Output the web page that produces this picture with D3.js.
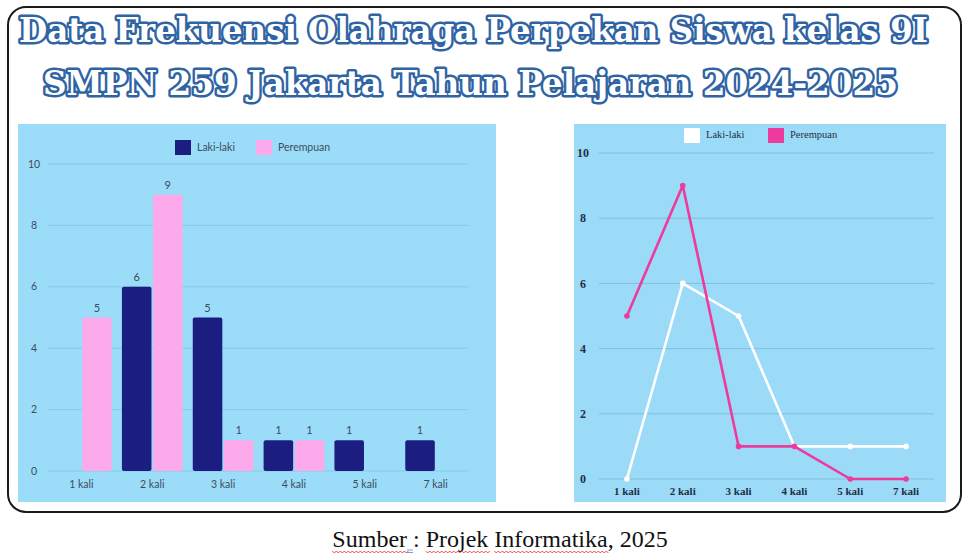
<!DOCTYPE html>
<html lang="id">
<head>
<meta charset="UTF-8">
<title>Data Frekuensi Olahraga Perpekan</title>
<style>
  body { margin: 0; background: #fff; }
  svg { display: block; }
  .lbar text { font-family: Lato, "Noto Sans", sans-serif; fill: #3d4d5c; }
  .lline text { font-family: "Liberation Serif", "DejaVu Serif", serif; font-weight: bold; fill: #1f2f45; }
</style>
</head>
<body>
<div id="chart"></div>
<script src="https://cdnjs.cloudflare.com/ajax/libs/d3/7.8.5/d3.min.js"></script>
<script>
// data
const categories = ["1 kali", "2 kali", "3 kali", "4 kali", "5 kali", "7 kali"];
const lakiLaki = [0, 6, 5, 1, 1, 1];
const perempuan = [5, 9, 1, 1, 0, 0];
const yTicks = [0, 2, 4, 6, 8, 10];
const seriesNames = ["Laki-laki", "Perempuan"];
const titleLines = [
  "Data Frekuensi Olahraga Perpekan Siswa kelas 9I",
  "SMPN 259 Jakarta Tahun Pelajaran 2024-2025"
];
const caption = "Sumber : Projek Informatika, 2025";

const W = 971, H = 557;
const svg = d3.select("#chart").append("svg")
  .attr("width", W).attr("height", H);

// outer frame
svg.append("rect")
  .attr("x", 8).attr("y", 7).attr("width", 953).attr("height", 505)
  .attr("rx", 18).attr("ry", 18)
  .style("fill", "#fff").style("stroke", "#1a1a1a").style("stroke-width", 2);

// title
const titlePos = [{x0: 19, x1: 928, y: 42}, {x0: 43, x1: 898, y: 95}];
titleLines.forEach(function (t, i) {
  const p = titlePos[i];
  svg.append("text")
    .attr("x", p.x0).attr("y", p.y)
    .attr("textLength", p.x1 - p.x0)
    .attr("lengthAdjust", "spacingAndGlyphs")
    .style("font-family", "'DejaVu Serif', serif")
    .style("font-weight", "bold")
    .style("font-size", "33px")
    .style("fill", "#fff")
    .style("stroke", "#2f63a3")
    .style("stroke-width", 5)
    .style("stroke-linejoin", "round")
    .style("paint-order", "stroke")
    .text(t);
});

// ---------- left: bar chart ----------
const gB = svg.append("g").attr("class", "lbar");
gB.append("rect")
  .attr("x", 18).attr("y", 124).attr("width", 478).attr("height", 378)
  .style("fill", "#9bdcf9");

const yB = d3.scaleLinear().domain([0, 10]).range([471, 164]);
const x0 = d3.scaleBand().domain(categories).range([46, 471])
  .paddingInner(0.1).paddingOuter(0.05);
const x1 = d3.scaleBand().domain(seriesNames).range([0, x0.bandwidth()]).padding(0.05);
const barColor = d3.scaleOrdinal().domain(seriesNames).range(["#1c1d80", "#fcaaeb"]);

gB.selectAll("line.grid").data(yTicks).join("line")
  .attr("class", "grid")
  .attr("x1", 48).attr("x2", 468)
  .attr("y1", d => yB(d)).attr("y2", d => yB(d))
  .style("stroke", "#86c9e8").style("stroke-width", 1);

gB.selectAll("text.ytick").data(yTicks).join("text")
  .attr("class", "ytick")
  .attr("x", 34).attr("y", d => yB(d))
  .attr("dy", "0.35em").attr("text-anchor", "middle")
  .style("font-size", "10.5px")
  .text(d => d);

const barData = [];
categories.forEach(function (c, i) {
  barData.push({cat: c, s: seriesNames[0], v: lakiLaki[i]});
  barData.push({cat: c, s: seriesNames[1], v: perempuan[i]});
});
const shown = barData.filter(d => d.v > 0);

gB.selectAll("rect.bar").data(shown).join("rect")
  .attr("class", "bar")
  .attr("x", d => x0(d.cat) + x1(d.s))
  .attr("y", d => yB(d.v))
  .attr("width", x1.bandwidth())
  .attr("height", d => yB(0) - yB(d.v))
  .attr("rx", 2)
  .style("fill", d => barColor(d.s));

gB.selectAll("text.val").data(shown).join("text")
  .attr("class", "val")
  .attr("x", d => x0(d.cat) + x1(d.s) + x1.bandwidth() / 2)
  .attr("y", d => yB(d.v) - 6)
  .attr("text-anchor", "middle")
  .style("font-size", "11px")
  .text(d => d.v);

gB.selectAll("text.xtick").data(categories).join("text")
  .attr("class", "xtick")
  .attr("x", d => x0(d) + x0.bandwidth() / 2)
  .attr("y", 484).attr("dy", "0.35em")
  .attr("text-anchor", "middle")
  .style("font-size", "10.5px")
  .text(d => d);

const legB = gB.append("g").attr("transform", "translate(175,140)");
seriesNames.forEach(function (s, i) {
  const off = i * 81;
  legB.append("rect").attr("x", off).attr("y", 0).attr("width", 16).attr("height", 15)
    .style("fill", barColor(s));
  legB.append("text").attr("x", off + 22).attr("y", 7.5).attr("dy", "0.35em")
    .style("font-size", "10.5px").text(s);
});

// ---------- right: line chart ----------
const gL = svg.append("g").attr("class", "lline");
gL.append("rect")
  .attr("x", 574).attr("y", 124).attr("width", 372).attr("height", 378)
  .style("fill", "#9cdbf8");

const yL = d3.scaleLinear().domain([0, 10]).range([479, 153]);
const xL = d3.scalePoint().domain(categories).range([599, 934]).padding(0.5);
const lineColor = d3.scaleOrdinal().domain(seriesNames).range(["#ffffff", "#ec3b9c"]);

gL.selectAll("line.grid").data(yTicks).join("line")
  .attr("class", "grid")
  .attr("x1", 599).attr("x2", 934)
  .attr("y1", d => yL(d)).attr("y2", d => yL(d))
  .style("stroke", "#7fbfdc").style("stroke-width", 1);

gL.selectAll("text.ytick").data(yTicks).join("text")
  .attr("class", "ytick")
  .attr("x", 583).attr("y", d => yL(d))
  .attr("dy", "0.35em").attr("text-anchor", "middle")
  .style("font-size", "12px")
  .text(d => d);

gL.selectAll("text.xtick").data(categories).join("text")
  .attr("class", "xtick")
  .attr("x", d => xL(d))
  .attr("y", 491).attr("dy", "0.35em")
  .attr("text-anchor", "middle")
  .style("font-size", "11px")
  .text(d => d);

const line = d3.line().x((d, i) => xL(categories[i])).y(d => yL(d));
[lakiLaki, perempuan].forEach(function (vals, k) {
  const col = lineColor(seriesNames[k]);
  gL.append("path").datum(vals)
    .attr("d", line)
    .style("fill", "none").style("stroke", col)
    .style("stroke-width", 2.6).style("stroke-linejoin", "round");
  gL.selectAll("circle.s" + k).data(vals).join("circle")
    .attr("class", "s" + k)
    .attr("cx", (d, i) => xL(categories[i]))
    .attr("cy", d => yL(d))
    .attr("r", 2.8)
    .style("fill", col);
});

const legL = gL.append("g").attr("transform", "translate(684,128)");
seriesNames.forEach(function (s, i) {
  const off = i * 84;
  legL.append("rect").attr("x", off).attr("y", 0).attr("width", 16).attr("height", 15)
    .style("fill", lineColor(s));
  legL.append("text").attr("x", off + 22).attr("y", 6).attr("dy", "0.35em")
    .style("font-size", "10.5px").style("font-weight", "normal").text(s);
});

// ---------- caption ----------
const cap = svg.append("text")
  .attr("x", 500).attr("y", 547)
  .attr("text-anchor", "middle")
  .style("font-family", "'Liberation Serif', 'Times New Roman', serif")
  .style("font-size", "24px")
  .style("fill", "#111")
  .text(caption);

// spell-check squiggles under some words
const node = cap.node();
const start = node.getStartPositionOfChar(0).x;
function squiggle(from, to, color) {
  const a = start + node.getSubStringLength(0, from);
  const b = start + node.getSubStringLength(0, to);
  let d = "M" + a + ",551";
  for (let x = a, k = 0; x < b; x += 2, k++) {
    d += "L" + (x + 2) + "," + (k % 2 ? 551 : 553);
  }
  svg.append("path").attr("d", d)
    .style("fill", "none").style("stroke", color).style("stroke-width", 0.9);
}
squiggle(0, 6, "#e33");
squiggle(9, 15, "#e33");
squiggle(16, 27, "#e33");
const ua = start + node.getSubStringLength(0, 6);
const ub = start + node.getSubStringLength(0, 7);
[550, 552.5].forEach(function (yy) {
  svg.append("line").attr("x1", ua).attr("x2", ub).attr("y1", yy).attr("y2", yy)
    .style("stroke", "#5b7fd6").style("stroke-width", 0.8);
});
</script>
</body>
</html>
